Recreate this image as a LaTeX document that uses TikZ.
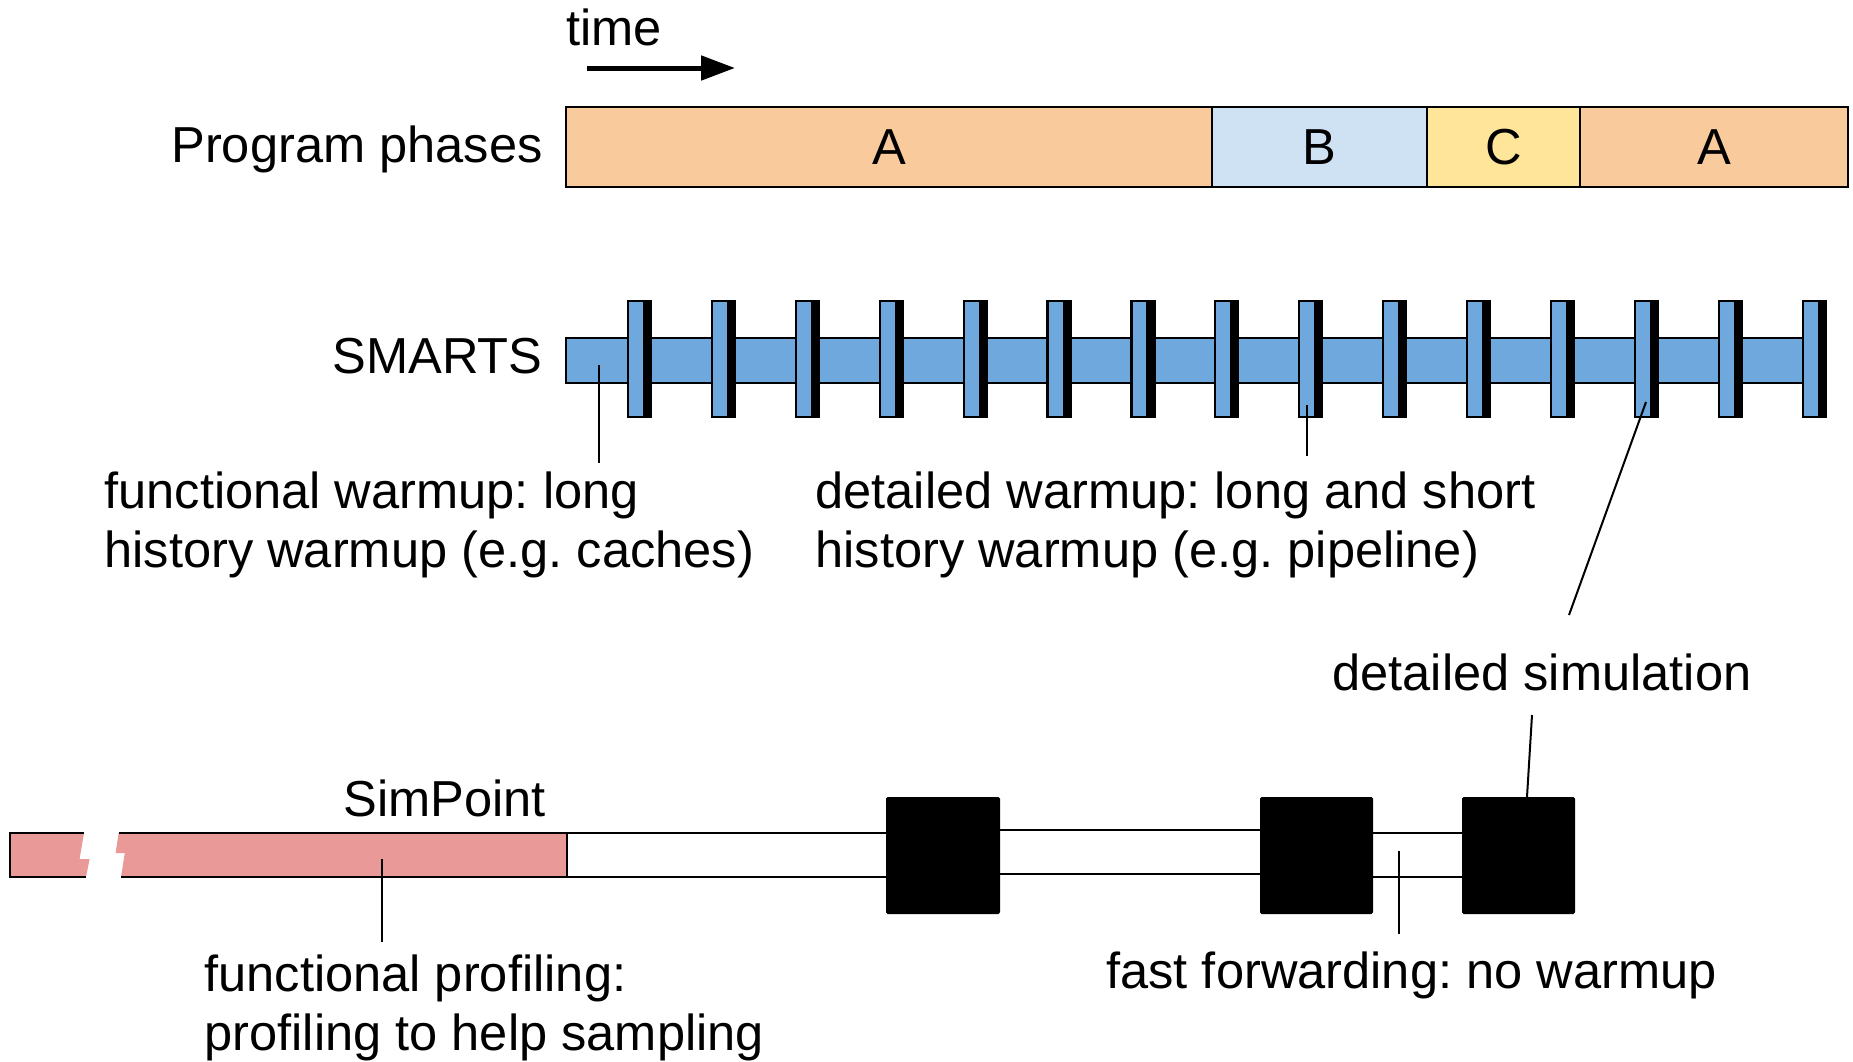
\documentclass[tikz,border=0pt]{standalone}
\usepackage{fontspec}
\setmainfont{Liberation Sans}
\usetikzlibrary{arrows.meta}
\definecolor{phA}{HTML}{F9CB9C}
\definecolor{phB}{HTML}{CFE2F3}
\definecolor{phC}{HTML}{FFE599}
\definecolor{smblue}{HTML}{6FA8DC}
\definecolor{spred}{HTML}{EA9999}
\frenchspacing
\begin{document}
\begin{tikzpicture}[x=0.5pt,y=-0.5pt,
  lbl/.style={inner sep=0pt, font=\fontsize{25.3}{30}\selectfont},
  outl/.style={draw=black, line width=1.1pt},
  leader/.style={draw=black, line width=1pt},
  blk/.style={fill=black, rounded corners=0.8pt}]
\useasboundingbox (0,0) rectangle (1853,1061);

% time arrow
\node[lbl, anchor=base west] (time) at (566,45) {time};
\coordinate (ta) at (587,68);
\coordinate (tb) at (735,68);
\draw[line width=2.5pt, -{Triangle[length=17pt,width=12pt]}] (ta) -- (tb);

% program phases
\node[lbl, anchor=base east] (pp) at (543,162) {Program phases};
\draw[outl, fill=phA] (566,107) rectangle (1212,187);
\draw[outl, fill=phB] (1212,107) rectangle (1427,187);
\draw[outl, fill=phC] (1427,107) rectangle (1580,187);
\draw[outl, fill=phA] (1580,107) rectangle (1848,187);
\node[lbl] (pA1) at (889,147) {A};
\node[lbl] (pB) at (1319.5,147) {B};
\node[lbl] (pC) at (1503.5,147) {C};
\node[lbl] (pA2) at (1714,147) {A};

% SMARTS
\node[lbl, anchor=base east] (sm) at (543,373) {SMARTS};
\draw[outl, fill=smblue] (566,338) rectangle (1804,383);
\foreach \k in {0,...,14} {
  \pgfmathsetmacro\xa{628+83.9*\k}
  \fill[smblue] (\xa,301) rectangle (\xa+15,417);
  \fill[black] (\xa+15,301) rectangle (\xa+23,417);
  \draw[outl] (\xa,301) rectangle (\xa+23,417);
}

% SMARTS annotations
\node[lbl, anchor=base west] (fw1) at (104,508) {functional warmup: long};
\node[lbl, anchor=base west] (fw2) at (104,567) {history warmup (e.g. caches)};
\node[lbl, anchor=base west] (dw1) at (815,508) {detailed warmup: long and short};
\node[lbl, anchor=base west] (dw2) at (815,567) {history warmup (e.g. pipeline)};
\coordinate (fwa) at (599,365);
\coordinate (fwb) at (599,463);
\draw[leader] (fwa) -- (fwb);
\coordinate (dwa) at (1307,405);
\coordinate (dwb) at (1307,456);
\draw[leader] (dwa) -- (dwb);

\node[lbl, anchor=base west] (ds) at (1332,690) {detailed simulation};
\coordinate (dsa) at (1646,402);
\coordinate (dsb) at (1569,615);
\draw[leader] (dsa) -- (dsb);

% SimPoint
\node[lbl, anchor=base west] (spl) at (343,816) {SimPoint};
\fill[spred] (10,833) -- (84,833) -- (79.6,859) -- (89.6,859) -- (86,877) -- (10,877) -- cycle;
\fill[spred] (118.6,833) -- (115.6,853) -- (124.8,853) -- (121,877) -- (567,877) -- (567,833) -- cycle;
\draw[outl] (84,833) -- (10,833) -- (10,877) -- (86,877);
\draw[outl] (118.6,833) -- (567,833) -- (567,877) -- (121,877);
\draw[outl] (567,833) -- (890,833);
\draw[outl] (567,877) -- (890,877);
\draw[outl] (996,830) -- (1264,830);
\draw[outl] (996,874) -- (1264,874);
\draw[outl] (1369,833) -- (1466,833);
\draw[outl] (1369,877) -- (1466,877);
\fill[blk] (886,797) rectangle (1000,914);
\fill[blk] (1260,797) rectangle (1373,914);
\fill[blk] (1462,797) rectangle (1575,914);
\coordinate (b3top) at (1527,797);
\coordinate (dsc) at (1532,715);
\draw[leader] (dsc) -- (b3top);

\coordinate (ffa) at (1399,851);
\coordinate (ffb) at (1399,934);
\draw[leader] (ffa) -- (ffb);
\node[lbl, anchor=base west] (ff) at (1106,988) {fast forwarding: no warmup};

\coordinate (fpa) at (382,859);
\coordinate (fpb) at (382,942);
\draw[leader] (fpa) -- (fpb);
\node[lbl, anchor=base west] (fp1) at (204,991) {functional profiling:};
\node[lbl, anchor=base west] (fp2) at (204,1050) {profiling to help sampling};
\end{tikzpicture}
\end{document}
